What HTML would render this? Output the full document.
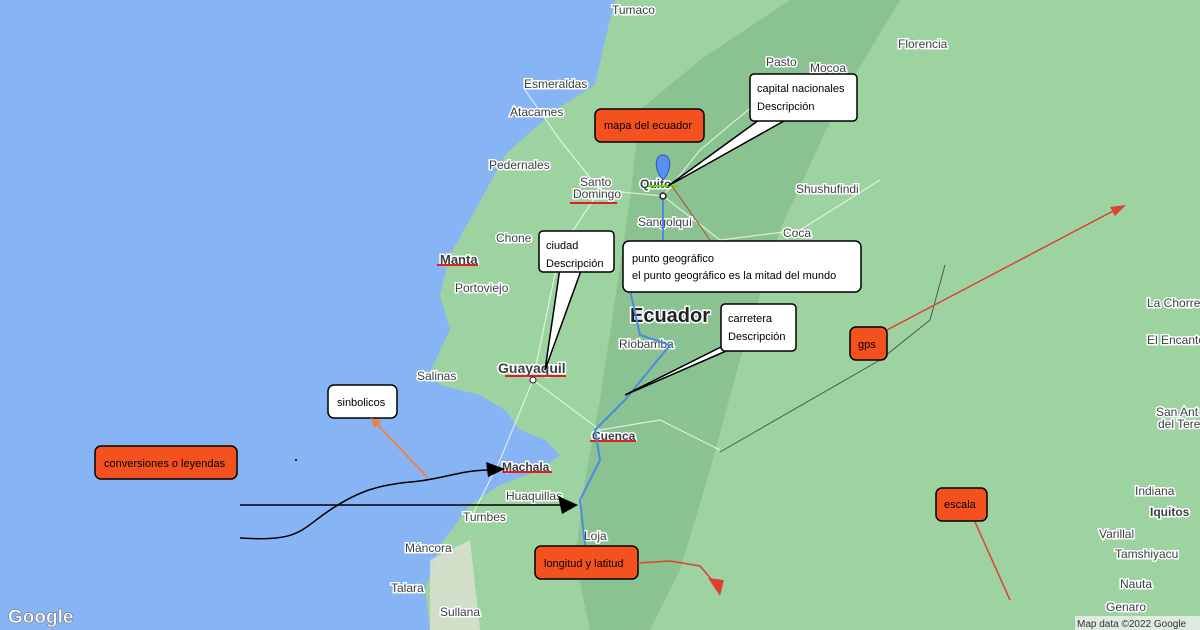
<!DOCTYPE html>
<html><head><meta charset="utf-8"><style>
body{margin:0;width:1200px;height:630px;overflow:hidden;font-family:"Liberation Sans",sans-serif;}
svg{display:block}
.t{font-family:"Liberation Sans",sans-serif;font-size:12px;fill:#3c4043;stroke:#fff;stroke-width:3px;paint-order:stroke}
.b{font-family:"Liberation Sans",sans-serif;font-size:11px;fill:#000}
</style></head><body>
<svg width="1200" height="630" viewBox="0 0 1200 630">
<rect width="1200" height="630" fill="#86b4f4"/>
<path d="M615,0 L1200,0 L1200,630 L430,630 L425,590 L440,545 L470,505 L500,485 L540,470 L560,455 L545,445 L520,430 L505,410 L480,395 L440,385 L430,372 L450,330 L440,295 L450,255 L478,205 L505,155 L555,110 L595,85 L605,40 Z" fill="#9dd3a0"/>
<path d="M540,470 L560,455 L545,440 L520,430 L505,410 L510,440 L530,460 Z" fill="#86b4f4"/>
<path d="M640,110 L700,60 L790,0 L900,0 L840,100 L780,230 L740,360 L710,470 L680,570 L650,630 L590,630 L575,560 L585,480 L600,400 L615,300 L630,200 Z" fill="#84bd8c" opacity="0.75"/>
<path d="M430,560 L470,540 L480,630 L430,630 Z" fill="#e8e4d8" opacity="0.7"/>
<g stroke="#fff" stroke-width="1.2" fill="none" opacity="0.7">
<path d="M525,90 L560,140 L600,190 L663,196 L700,150 L760,100"/>
<path d="M600,190 L560,250 L533,380 L600,430 L660,420 L720,450"/>
<path d="M533,380 L500,460 L470,520"/>
<path d="M663,196 L720,240 L800,230 L880,180"/>
</g>
<path d="M945,265 L930,320 L880,360 L720,452" stroke="#555" stroke-width="1" fill="none"/>
<g>
<text class="t" x="612" y="14">Tumaco</text>
<text class="t" x="766" y="66">Pasto</text>
<text class="t" x="810" y="72">Mocoa</text>
<text class="t" x="898" y="48">Florencia</text>
<text class="t" x="524" y="88">Esmeraldas</text>
<text class="t" x="510" y="116">Atacames</text>
<text class="t" x="489" y="169">Pedernales</text>
<text class="t" x="580" y="186">Santo</text>
<text class="t" x="573" y="198">Domingo</text>
<text class="t" x="638" y="226">Sangolquí</text>
<text class="t" x="796" y="193">Shushufindi</text>
<text class="t" x="783" y="237">Coca</text>
<text class="t" x="496" y="242">Chone</text>
<text class="t" x="440" y="264" style="font-size:13px;font-weight:bold">Manta</text>
<text class="t" x="455" y="292">Portoviejo</text>
<text class="t" x="417" y="380">Salinas</text>
<text class="t" x="498" y="373" style="font-size:14px;font-weight:bold">Guayaquil</text>
<text class="t" x="630" y="322" style="font-size:20px;font-weight:bold;fill:#222">Ecuador</text>
<text class="t" x="619" y="348">Riobamba</text>
<text class="t" x="592" y="440" style="font-weight:bold">Cuenca</text>
<text class="t" x="502" y="471" style="font-weight:bold">Machala</text>
<text class="t" x="506" y="500">Huaquillas</text>
<text class="t" x="463" y="521">Tumbes</text>
<text class="t" x="405" y="552">Máncora</text>
<text class="t" x="391" y="592">Talara</text>
<text class="t" x="440" y="616">Sullana</text>
<text class="t" x="584" y="540">Loja</text>
<text class="t" x="1147" y="307">La Chorre</text>
<text class="t" x="1147" y="344">El Encanto</text>
<text class="t" x="1156" y="416">San Ant</text>
<text class="t" x="1158" y="428">del Terese</text>
<text class="t" x="1135" y="495">Indiana</text>
<text class="t" x="1150" y="516" style="font-weight:bold">Iquitos</text>
<text class="t" x="1099" y="538">Varillal</text>
<text class="t" x="1115" y="558">Tamshiyacu</text>
<text class="t" x="1120" y="588">Nauta</text>
<text class="t" x="1106" y="611">Genaro</text>
<text class="t" x="640" y="188" style="font-weight:bold">Quito</text>
</g>
<line x1="570" y1="203" x2="617" y2="203" stroke="#e02020" stroke-width="2"/>
<line x1="437" y1="265" x2="478" y2="265" stroke="#e02020" stroke-width="2"/>
<line x1="505" y1="376" x2="566" y2="376" stroke="#e02020" stroke-width="2"/>
<line x1="590" y1="441" x2="636" y2="441" stroke="#e02020" stroke-width="2"/>
<line x1="502" y1="472" x2="552" y2="472" stroke="#e02020" stroke-width="2"/>
<line x1="648" y1="186" x2="678" y2="186" stroke="#5be000" stroke-width="2"/>
<path d="M663,195 L663,240 L630,290 L640,335 L670,345 L625,400 L595,430 L600,460 L580,500 L585,545" stroke="#4a8ae0" stroke-width="2" fill="none"/>
<path d="M663,155 C655,155 653,168 663,180 C673,168 671,155 663,155Z" fill="#5b8ff0" stroke="#2a5cc0"/>
<circle cx="663" cy="196" r="3" fill="#fff" stroke="#222" stroke-width="1.5"/>
<circle cx="533" cy="380" r="3" fill="#fff" stroke="#222"/>
<line x1="672" y1="186" x2="710" y2="240" stroke="#c04030" stroke-width="1"/>
<polygon points="770,112 800,112 668,186" fill="#fff" stroke="#000" stroke-width="1.5"/>
<rect x="750" y="74" width="107" height="47" rx="4" fill="#fff" stroke="#000" stroke-width="1.5"/>
<text class="b" x="757" y="92">capital nacionales</text><text class="b" x="757" y="110">Descripción</text>
<polygon points="560,268 582,268 545,370" fill="#fff" stroke="#000" stroke-width="1.5"/>
<rect x="539" y="231" width="75" height="41" rx="4" fill="#fff" stroke="#000" stroke-width="1.5"/>
<text class="b" x="546" y="249">ciudad</text><text class="b" x="546" y="267">Descripción</text>
<rect x="623" y="241" width="238" height="51" rx="6" fill="#fff" stroke="#000" stroke-width="1.5"/>
<text class="b" x="632" y="262">punto geográfico</text><text class="b" x="632" y="279">el punto geográfico es la mitad del mundo</text>
<polygon points="725,345 740,345 625,395" fill="#fff" stroke="#000" stroke-width="1.5"/>
<rect x="721" y="304" width="75" height="47" rx="4" fill="#fff" stroke="#000" stroke-width="1.5"/>
<text class="b" x="728" y="322">carretera</text><text class="b" x="728" y="340">Descripción</text>
<rect x="328" y="385" width="69" height="33" rx="6" fill="#fff" stroke="#000" stroke-width="1.5"/>
<text class="b" x="337" y="406">sinbolicos</text>
<g fill="#f4511e" stroke="#000" stroke-width="1.5">
<rect x="595" y="109" width="109" height="33" rx="6"/>
<rect x="95" y="446" width="142" height="33" rx="6"/>
<rect x="535" y="546" width="103" height="33" rx="6"/>
<rect x="850" y="327" width="37" height="33" rx="6"/>
<rect x="936" y="488" width="51" height="33" rx="6"/>
</g>
<text class="b" x="604" y="129">mapa del ecuador</text>
<text class="b" x="104" y="467">conversiones o leyendas</text>
<text class="b" x="544" y="567">longitud y latitud</text>
<text class="b" x="858" y="348">gps</text>
<text class="b" x="944" y="508">escala</text>
<line x1="428" y1="478" x2="375" y2="422" stroke="#f08040" stroke-width="2"/>
<polygon points="371,418 382,421 374,428" fill="#f08040"/>
<line x1="887" y1="330" x2="1115" y2="210" stroke="#e04030" stroke-width="1.5"/>
<polygon points="1126,205 1110,207 1115,216" fill="#e04030"/>
<line x1="975" y1="522" x2="1010" y2="600" stroke="#e04030" stroke-width="1.5"/>
<path d="M638,563 L670,561 L700,566 L712,580" stroke="#e04030" stroke-width="1.5" fill="none"/>
<polygon points="708,578 724,580 720,596" fill="#e04030"/>
<line x1="240" y1="505" x2="565" y2="505" stroke="#000" stroke-width="1.5"/>
<polygon points="578,505 558,496 562,514" fill="#000"/>
<path d="M240,538 C300,542 300,530 330,510 C360,490 380,485 410,482 C440,480 460,470 490,470" stroke="#000" stroke-width="1.5" fill="none"/>
<polygon points="505,469 486,462 488,477" fill="#000"/>
<circle cx="296" cy="460" r="1" fill="#000"/>
<text x="8" y="623" style="font-family:'Liberation Sans',sans-serif;font-size:19px;font-weight:bold;fill:#fff;stroke:#666;stroke-width:0.5">Google</text>
<rect x="1075" y="616" width="125" height="14" fill="#f0f0f0" opacity="0.8"/>
<text x="1077" y="627" style="font-family:'Liberation Sans',sans-serif;font-size:10px;fill:#333">Map data ©2022 Google</text>
</svg>
</body></html>
